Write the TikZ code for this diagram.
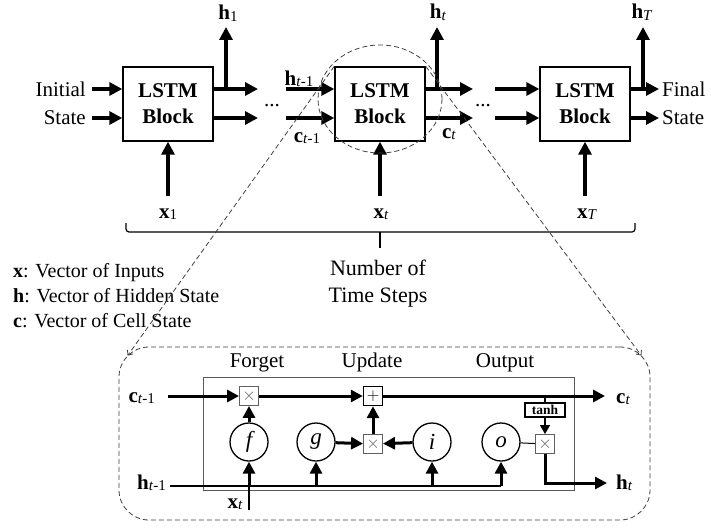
\documentclass[tikz,border=0pt]{standalone}
\usepackage{fontspec}
\setmainfont{Liberation Serif}
\usetikzlibrary{arrows.meta,shapes.geometric}
\newcommand{\vsb}[2]{\textbf{#1}\raisebox{-1.5pt}{\fontsize{15}{15}\selectfont #2}}
\begin{document}
\begin{tikzpicture}[x=1pt,y=-1pt,font=\fontsize{21}{25}\selectfont,
  blk/.style={draw,line width=1.4pt,minimum width=90pt,minimum height=74pt,inner sep=0pt,align=center,font=\bfseries\fontsize{21}{26}\selectfont},
  arr/.style={line width=3.2pt,-{Triangle[length=13pt,width=13pt]}},
  arrb/.style={line width=3pt,-{Triangle[length=12pt,width=12pt]}},
  arrs/.style={line width=1.3pt,-{Triangle[length=9pt,width=10pt]}},
  lab/.style={inner sep=0pt},
  thinl/.style={line width=1.5pt},
  opbox/.style={draw=gray!75!black,line width=0.9pt,minimum size=19pt,inner sep=0pt,fill=white,text=gray!75!black,font=\fontsize{16}{16}\selectfont},
  addbox/.style={draw,line width=1.4pt,minimum size=19pt,inner sep=0pt,fill=white,font=\fontsize{18}{18}\selectfont},
  gate/.style={draw,circle,line width=1.3pt,minimum size=38pt,inner sep=0pt,fill=white,font=\itshape\fontsize{23}{23}\selectfont},
  zl/.style={draw=gray!50!black,line width=0.8pt,dash pattern=on 5pt off 3pt},
]
\useasboundingbox (0,0) rectangle (711,527);

% ---------- top: LSTM chain ----------
\node[blk] (b1) at (168,104) {LSTM\\Block};
\node[blk] (b2) at (380,104) {LSTM\\Block};
\node[blk] (b3) at (585,104) {LSTM\\Block};

\node[lab,anchor=east] (linit) at (86,89) {Initial};
\node[lab,anchor=east] (lstate) at (86,118) {State};
\coordinate (i1h) at (92,89); \coordinate (i1c) at (92,118);
\draw[arr] (i1h) -- (b1.west |- i1h);
\draw[arr] (i1c) -- (b1.west |- i1c);

\coordinate (o1h) at (258,89); \coordinate (o1c) at (258,118);
\draw[arr] (b1.east |- o1h) -- (o1h);
\draw[arr] (b1.east |- o1c) -- (o1c);
\coordinate (h1b) at (226,89); \coordinate (h1t) at (226,27);
\draw[arr] (h1b) -- (h1t);
\node[lab,anchor=base] (h1l) at (228,20) {\vsb{h}{1}};

\node[lab,anchor=base] (dots1) at (272,106) {...};

\coordinate (i2h) at (286,89); \coordinate (i2c) at (286,118);
\draw[arr] (i2h) -- (b2.west |- i2h);
\draw[arr] (i2c) -- (b2.west |- i2c);
\node[lab,anchor=base] (lht1) at (299,85) {\vsb{h}{\textit{t}-1}};
\node[lab,anchor=base] (lct1) at (307,142) {\vsb{c}{\textit{t}-1}};

\coordinate (o2h) at (473,89); \coordinate (o2c) at (473,118);
\draw[arr] (b2.east |- o2h) -- (o2h);
\draw[arr] (b2.east |- o2c) -- (o2c);
\coordinate (h2b) at (437,89); \coordinate (h2t) at (437,27);
\draw[arr] (h2b) -- (h2t);
\node[lab,anchor=base] (htl) at (438,19) {\vsb{h}{\textit{t}}};
\node[lab,anchor=base] (ctl) at (449,138) {\vsb{c}{\textit{t}}};

\node[lab,anchor=base] (dots2) at (483,106) {...};

\coordinate (i3h) at (495,89); \coordinate (i3c) at (495,118);
\draw[arr] (i3h) -- (b3.west |- i3h);
\draw[arr] (i3c) -- (b3.west |- i3c);

\coordinate (o3h) at (659,89); \coordinate (o3c) at (659,118);
\draw[arr] (b3.east |- o3h) -- (o3h);
\draw[arr] (b3.east |- o3c) -- (o3c);
\coordinate (h3b) at (643,89); \coordinate (h3t) at (643,27);
\draw[arr] (h3b) -- (h3t);
\node[lab,anchor=base] (hTl) at (642,19) {\vsb{h}{\textit{T}}};
\node[lab,anchor=west] (lfinal) at (662,89) {Final};
\node[lab,anchor=west] (lfstate) at (662,118) {State};

\coordinate (x1b) at (168,196); \coordinate (x2b) at (380,196); \coordinate (x3b) at (585,196);
\draw[arr] (x1b) -- (b1.south);
\draw[arr] (x2b) -- (b2.south);
\draw[arr] (x3b) -- (b3.south);
\node[lab,anchor=base] (x1l) at (168,218) {\vsb{x}{1}};
\node[lab,anchor=base] (x2l) at (381,218) {\vsb{x}{\textit{t}}};
\node[lab,anchor=base] (x3l) at (587,218) {\vsb{x}{\textit{T}}};

% brace
\coordinate (brl) at (126,223); \coordinate (brr) at (635,223);
\coordinate (brm) at (380,232); \coordinate (brs) at (380,248);
\draw[line width=1.2pt,rounded corners=3pt] (brl) -- (brl |- brm) -- (brr |- brm) -- (brr);
\draw[line width=1.2pt] (brm) -- (brs);
\node[lab,anchor=base,font=\fontsize{22}{26}\selectfont] (nos1) at (378,275) {Number of};
\node[lab,anchor=base,font=\fontsize{22}{26}\selectfont] (nos2) at (378,302) {Time Steps};

% legend
\node[lab,anchor=base west,font=\fontsize{20}{24}\selectfont] (lg1) at (13,277) {\textbf{x}: Vector of Inputs};
\node[lab,anchor=base west,font=\fontsize{20}{24}\selectfont] (lg2) at (13,302) {\textbf{h}: Vector of Hidden State};
\node[lab,anchor=base west,font=\fontsize{20}{24}\selectfont] (lg3) at (13,327) {\textbf{c}: Vector of Cell State};

% magnifier
\node[zl,ellipse,minimum width=124pt,minimum height=108pt,inner sep=0pt] (mag) at (380,99) {};
\node[zl,rounded corners=30pt,minimum width=531pt,minimum height=173pt,inner sep=0pt] (zbox) at (384.5,433.5) {};
\coordinate (zcl) at ([shift={(9,9)}]zbox.north west);
\coordinate (zcr) at ([shift={(-9,9)}]zbox.north east);
\draw[zl,-{Straight Barb[length=4pt,width=7pt]}] (b2.north west) -- (zcl);
\draw[zl,-{Straight Barb[length=4pt,width=7pt]}] (b2.north east) -- (zcr);

% ---------- bottom: LSTM cell ----------
\node[draw=gray!70!black,line width=0.8pt,minimum width=371pt,minimum height=113pt,inner sep=0pt] (inner) at (388.5,433.5) {};
\node[lab,anchor=base] (lforget) at (257,367) {Forget};
\node[lab,anchor=base] (lupdate) at (372,367) {Update};
\node[lab,anchor=base] (loutput) at (505,367) {Output};

\coordinate (cin) at (168,396); \coordinate (cout) at (605,396);
\coordinate (hin) at (170,486); \coordinate (hend) at (501,486);
\coordinate (hout) at (607,483); \coordinate (xin) at (249,510);

\draw[thinl] (hin) -- (hend);
\draw[thinl] (xin) -- (249,486);

\node[opbox] (fx) at (249,396) {$\times$};
\node[addbox] (ad) at (373,396) {$+$};
\node[opbox] (ux) at (373,444) {$\times$};
\node[opbox] (ox) at (545,444) {$\times$};
\node[draw,line width=1.2pt,minimum width=40pt,minimum height=14pt,inner sep=0pt,fill=white,font=\bfseries\fontsize{13.5}{13.5}\selectfont] (th) at (545,410) {tanh};

\node[gate] (f) at (249,442) {f};
\node[gate] (g) at (316,442) {g};
\node[gate] (i) at (432,442) {i};
\node[gate] (o) at (501,442) {o};

\draw[arrb] (cin) -- (fx);
\draw[arrb] (fx) -- (ad);
\draw[arrb] (ad) -- (cout);
\draw[line width=1.2pt] (th.north |- cout) -- (th.north);
\draw[arrs] (th) -- (ox);
\draw[line width=1pt] (o) -- (ox);
\draw[arrb] (ox) |- (hout);

\draw[arrb] (f |- hin) -- (f);
\draw[arrb] (g |- hin) -- (g);
\draw[arrb] (i |- hin) -- (i);
\draw[arrb] (o |- hin) -- (o);
\draw[arrb] (f) -- (fx);
\draw[arrb] (g) -- (ux);
\draw[arrb] (i) -- (ux);
\draw[arrb] (ux) -- (ad);

\node[lab,anchor=base east] (lc1) at (155,402) {\vsb{c}{\textit{t}-1}};
\node[lab,anchor=base east] (lh1) at (166,489) {\vsb{h}{\textit{t}-1}};
\node[lab,anchor=base west] (lct) at (616,403) {\vsb{c}{\textit{t}}};
\node[lab,anchor=base west] (lht) at (616,489) {\vsb{h}{\textit{t}}};
\node[lab,anchor=base] (lxt) at (235,508) {\vsb{x}{\textit{t}}};
\end{tikzpicture}
\end{document}
